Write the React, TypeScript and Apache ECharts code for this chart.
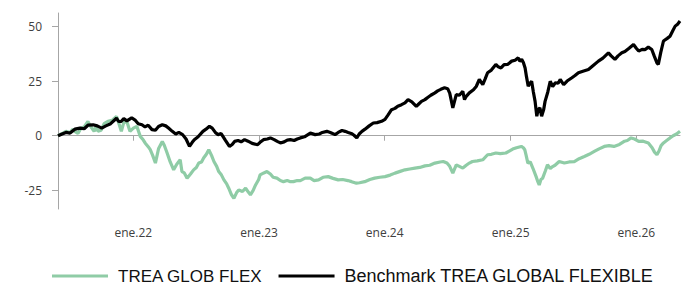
import React, { useEffect, useRef } from "react";
import * as echarts from "echarts";

const seriesNames = ["TREA GLOB FLEX", "Benchmark TREA GLOBAL FLEXIBLE"];
const yTickValues = [-25, 0, 25, 50];
const xTickDates = ["2022-01-01", "2023-01-01", "2024-01-01", "2025-01-01", "2026-01-01"];
const monthLabel = "ene.";

const fundDates = [
  "2021-05-27","2021-06-08","2021-06-19","2021-07-01","2021-07-09","2021-07-15","2021-07-24","2021-08-02","2021-08-11","2021-08-22",
  "2021-08-31","2021-09-09","2021-09-15","2021-09-20","2021-09-29","2021-10-08","2021-10-19","2021-10-31","2021-11-13","2021-11-19",
  "2021-11-27","2021-12-04","2021-12-13","2021-12-22","2022-01-01","2022-01-11","2022-01-21","2022-01-30","2022-02-04","2022-02-13",
  "2022-02-19","2022-02-26","2022-03-06","2022-03-15","2022-03-26","2022-04-01","2022-04-09","2022-04-18","2022-04-28","2022-05-07",
  "2022-05-17","2022-05-22","2022-05-29","2022-06-06","2022-06-16","2022-06-25","2022-07-03","2022-07-10","2022-07-18","2022-07-24",
  "2022-08-01","2022-08-08","2022-08-16","2022-08-23","2022-08-31","2022-09-06","2022-09-14","2022-09-21","2022-09-29","2022-10-05",
  "2022-10-13","2022-10-20","2022-10-28","2022-11-03","2022-11-14","2022-11-23","2022-12-02","2022-12-07","2022-12-15","2022-12-22",
  "2022-12-31","2023-01-04","2023-01-15","2023-01-24","2023-02-03","2023-02-11","2023-02-22","2023-03-04","2023-03-13","2023-03-24",
  "2023-04-02","2023-04-11","2023-04-22","2023-05-01","2023-05-15","2023-05-30","2023-06-10","2023-06-23","2023-07-06","2023-07-21",
  "2023-08-04","2023-08-19","2023-09-01","2023-09-16","2023-09-27","2023-10-11","2023-10-20","2023-11-04","2023-11-19","2023-12-03",
  "2023-12-18","2024-01-02","2024-01-17","2024-01-31","2024-02-15","2024-02-29","2024-03-14","2024-03-29","2024-04-12","2024-04-27",
  "2024-05-11","2024-05-26","2024-06-10","2024-06-19","2024-06-30","2024-07-08","2024-07-17","2024-07-27","2024-08-05","2024-08-15",
  "2024-08-25","2024-09-03","2024-09-12","2024-09-26","2024-10-12","2024-10-26","2024-11-06","2024-11-19","2024-12-02","2024-12-18",
  "2024-12-28","2025-01-07","2025-01-18","2025-02-01","2025-02-07","2025-02-11","2025-02-15","2025-02-20","2025-02-27","2025-03-07",
  "2025-03-16","2025-03-21","2025-03-25","2025-03-30","2025-04-04","2025-04-12","2025-04-18","2025-04-26","2025-05-03","2025-05-10",
  "2025-05-22","2025-06-06","2025-06-20","2025-07-05","2025-07-19","2025-08-03","2025-08-17","2025-09-01","2025-09-15","2025-09-30",
  "2025-10-14","2025-10-28","2025-11-13","2025-11-28","2025-12-06","2025-12-17","2025-12-27","2026-01-08","2026-01-21","2026-02-05",
  "2026-02-16","2026-02-23","2026-03-02","2026-03-08","2026-03-14","2026-03-21","2026-04-01","2026-04-09","2026-04-18","2026-04-28",
  "2026-05-08"
];
const fundValues = [
  0, 1, 2, 1.5, 3, 2, 1, 3.5, 4, 6.5,
  4, 2, 4.5, 2, 2.5, 5.5, 6.6, 7, 8.8, 6,
  2, 6, 6.5, 2, 3.5, 4.3, -0.3, -2, -3.3, -5,
  -6.4, -9, -12.5, -6, -2.6, -4.5, -7.9, -12, -15.6, -13,
  -11, -16.4, -17, -19.4, -17.5, -15.6, -14.5, -12.5, -12, -10.2,
  -8.5, -6.4, -9, -11.8, -14, -16.4, -18, -20.2, -22, -24,
  -27, -28.6, -26, -24.8, -25.5, -24, -26, -27, -25, -22.5,
  -20, -17.9, -17, -16.4, -17.5, -19, -19.4, -20.5, -21, -20.5,
  -21, -21, -20.5, -20.5, -19.4, -19.4, -20.5, -20.2, -19, -18.7,
  -19.5, -20.2, -20, -20.5, -21, -21.7, -21.5, -21, -20, -19.4,
  -19, -18.7, -18, -17.1, -16.3, -15.6, -15.2, -14.8, -14.5, -13.8,
  -13.5, -12.5, -12, -11.8, -12.5, -14, -17.1, -13.3, -14, -14.8,
  -13.5, -12.5, -11.8, -11.5, -11, -8.7, -8.5, -7.9, -8.2, -7.9,
  -7, -6.1, -5.5, -4.9, -5.5, -6.4, -9, -12.5, -12, -15,
  -18.7, -21, -22.5, -20, -19.4, -16, -13.3, -15, -14.1, -13.5,
  -11.8, -12.5, -12, -11.8, -10.5, -9.5, -8.5, -7.2, -6, -4.9,
  -4.5, -4.9, -4, -2.5, -2.2, -1, -1.5, -2.6, -2.5, -3.3,
  -5.5, -7.5, -8.7, -7, -4.5, -3.3, -2, -1, 0, 0.8,
  2
];

const benchDates = [
  "2021-05-27","2021-06-08","2021-06-19","2021-07-01","2021-07-15","2021-07-30","2021-08-11","2021-08-22","2021-09-06","2021-09-18",
  "2021-10-01","2021-10-13","2021-10-27","2021-11-13","2021-11-19","2021-11-27","2021-12-04","2021-12-13","2021-12-27","2022-01-07",
  "2022-01-15","2022-01-26","2022-02-04","2022-02-13","2022-02-24","2022-03-06","2022-03-15","2022-03-26","2022-04-05","2022-04-13",
  "2022-04-24","2022-05-04","2022-05-13","2022-05-24","2022-06-03","2022-06-13","2022-06-21","2022-06-27","2022-07-08","2022-07-22",
  "2022-07-31","2022-08-10","2022-08-18","2022-08-27","2022-09-04","2022-09-13","2022-09-25","2022-10-07","2022-10-15","2022-10-22",
  "2022-11-01","2022-11-10","2022-11-20","2022-11-30","2022-12-12","2022-12-28","2023-01-04","2023-01-14","2023-01-25","2023-02-03",
  "2023-02-14","2023-02-23","2023-03-04","2023-03-15","2023-03-24","2023-04-02","2023-04-13","2023-04-22","2023-05-01","2023-05-13",
  "2023-05-21","2023-05-30","2023-06-13","2023-06-25","2023-07-04","2023-07-17","2023-07-27","2023-08-10","2023-08-19","2023-08-30",
  "2023-09-08","2023-09-17","2023-09-28","2023-10-04","2023-10-12","2023-10-19","2023-10-27","2023-11-05","2023-11-17","2023-11-29",
  "2023-12-10","2023-12-23","2024-01-02","2024-01-11","2024-01-21","2024-01-31","2024-02-08","2024-02-19","2024-02-29","2024-03-09",
  "2024-03-20","2024-04-02","2024-04-09","2024-04-17","2024-04-27","2024-05-05","2024-05-14","2024-05-26","2024-06-03","2024-06-12",
  "2024-06-23","2024-07-02","2024-07-08","2024-07-17","2024-07-27","2024-08-05","2024-08-15","2024-08-20","2024-08-25","2024-09-03",
  "2024-09-15","2024-09-23","2024-10-02","2024-10-12","2024-10-19","2024-10-26","2024-11-06","2024-11-19","2024-11-26","2024-12-04",
  "2024-12-13","2024-12-23","2025-01-04","2025-01-14","2025-01-23","2025-01-28","2025-02-02","2025-02-07","2025-02-12","2025-02-16",
  "2025-02-21","2025-02-26","2025-03-03","2025-03-08","2025-03-13","2025-03-18","2025-03-22","2025-03-27","2025-04-01","2025-04-07",
  "2025-04-11","2025-04-19","2025-04-26","2025-05-03","2025-05-11","2025-05-19","2025-05-25","2025-06-04","2025-06-14","2025-06-28",
  "2025-07-07","2025-07-17","2025-07-30","2025-08-15","2025-08-28","2025-09-13","2025-09-26","2025-10-12","2025-10-20","2025-10-31",
  "2025-11-09","2025-11-20","2025-11-29","2025-12-11","2025-12-24","2026-01-01","2026-01-08","2026-01-18","2026-01-27","2026-02-05",
  "2026-02-15","2026-02-22","2026-03-02","2026-03-06","2026-03-13","2026-03-21","2026-04-01","2026-04-09","2026-04-17","2026-04-24",
  "2026-05-01","2026-05-08"
];
const benchValues = [
  0, 0.8, 1.5, 1.2, 3, 3.5, 3.2, 4.8, 5, 4.5,
  3.5, 4.5, 5.5, 8, 6.5, 6.6, 7.8, 6.8, 8.2, 7,
  5.5, 5, 4, 4.8, 2.8, 2.5, 4.2, 5, 4.5, 3.5,
  2, 0.8, 1.5, 0.5, -1.5, -4.9, -3, -1.8, -0.5, 2,
  3, 4.3, 3.5, 1.5, 0.5, 1, -2, -4.9, -4, -2.6,
  -2.2, -2.8, -1.8, -2.5, -3.5, -4.1, -3, -1.8, -1.5, -1,
  -1.8, -2.6, -3.3, -2.8, -2, -1.8, -2.2, -1.5, -1, -0.5,
  0.3, 1.2, 0.5, 0.8, 1.5, 2, 1.5, 0.5, 1.5, 2.4,
  2, 1.5, 0.9, 0.2, -1, 0.8, 2, 3, 4.5, 5.8,
  6, 6.6, 7.5, 9.5, 11.9, 12.5, 13.5, 14.2, 15, 16.5,
  15.5, 13.4, 14.5, 15.7, 16.5, 17.5, 18.5, 19.6, 20.5, 21.2,
  21.9, 21.5, 19.5, 12.7, 18.8, 18.5, 20.3, 16.5, 18, 19.6,
  21, 22.5, 25.7, 23.4, 26, 28.8, 30, 32.6, 31.5, 31,
  32.5, 32.6, 34.1, 34.5, 35.6, 34, 34.9, 33.5, 31, 27,
  22.6, 24, 24.9, 20, 15.7, 8.9, 12, 12.7, 8.9, 12,
  15.7, 20, 24.9, 22.5, 24.2, 24, 25.7, 23.4, 25, 26.5,
  27.5, 28.8, 29.5, 30.3, 32, 34.1, 35.5, 37.9, 36.5, 34.9,
  36.5, 37.9, 38.5, 40, 41.7, 40, 38.7, 39.5, 39.4, 40.5,
  39.4, 36.5, 33.3, 32.6, 38, 43.3, 44.5, 45.5, 48, 50.1,
  51, 52.4
];

const toTime = (s: string) => {
  const [y, m, d] = s.split("-").map(Number);
  return new Date(y, m - 1, d).getTime();
};

export default function App() {
  const ref = useRef<HTMLDivElement>(null);
  useEffect(() => {
    if (!ref.current) return;
    const chart = echarts.init(ref.current, null, { renderer: "svg" });
    const xTicks = xTickDates.map(toTime);
    chart.setOption({
      animation: false,
      backgroundColor: "#ffffff",
      grid: { left: 58, right: 9, top: 13, bottom: 77, containLabel: false },
      legend: {
        left: 52,
        top: 267,
        padding: 0,
        itemWidth: 56,
        itemHeight: 3,
        itemGap: 16,
        icon: "rect",
        textStyle: { fontFamily: "Liberation Sans", fontSize: 17, lineHeight: 18, color: "#111111", padding: [0, 0, 0, 5] },
        data: [
          { name: seriesNames[0], textStyle: { fontSize: 17 } },
          { name: seriesNames[1], textStyle: { fontSize: 18 } },
        ],
      },
      xAxis: {
        type: "value",
        min: toTime("2021-05-27"),
        max: toTime("2026-05-08"),
        axisLine: { show: true, lineStyle: { color: "#a6a6a6", width: 1 } },
        axisTick: { show: true, length: 5, lineStyle: { color: "#a6a6a6" }, customValues: xTicks },
        axisLabel: {
          customValues: xTicks,
          margin: 17,
          fontFamily: "Open Sans",
          fontSize: 12,
          color: "#404040",
          formatter: (v: number) => monthLabel + String(new Date(v).getFullYear()).slice(2),
        },
        splitLine: { show: false },
      },
      yAxis: {
        type: "value",
        min: -33.5,
        max: 56.1,
        axisLine: { show: true, lineStyle: { color: "#a6a6a6", width: 1 } },
        axisTick: { show: true, length: 6, lineStyle: { color: "#a6a6a6" }, customValues: yTickValues },
        axisLabel: {
          customValues: yTickValues,
          margin: 16,
          fontFamily: "Open Sans",
          fontSize: 12,
          color: "#404040",
        },
        splitLine: { show: false },
      },
      series: [
        {
          name: seriesNames[0],
          type: "line",
          showSymbol: false,
          data: fundDates.map((d, i) => [toTime(d), fundValues[i]]),
          lineStyle: { color: "#8fcca6", width: 3.2 },
          itemStyle: { color: "#8fcca6" },
          z: 2,
        },
        {
          name: seriesNames[1],
          type: "line",
          showSymbol: false,
          data: benchDates.map((d, i) => [toTime(d), benchValues[i]]),
          lineStyle: { color: "#000000", width: 3.2 },
          itemStyle: { color: "#000000" },
          z: 3,
        },
      ],
    });
    return () => chart.dispose();
  }, []);
  return <div ref={ref} style={{ position: "fixed", left: 0, top: 0, width: 689, height: 286 }} />;
}
